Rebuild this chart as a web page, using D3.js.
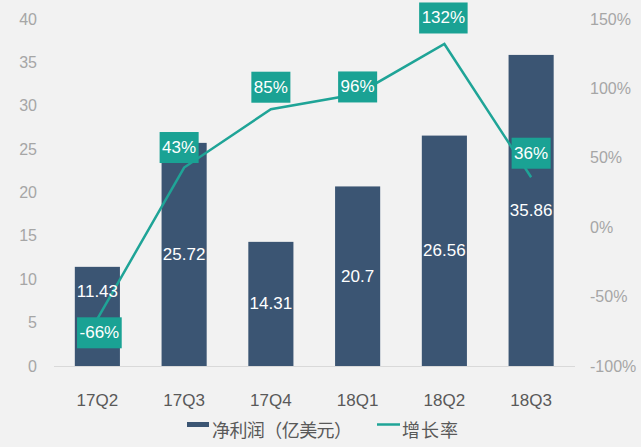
<!DOCTYPE html>
<html>
<head>
<meta charset="utf-8">
<script src="https://cdn.jsdelivr.net/npm/d3@7"></script>
<style>
html,body{margin:0;padding:0;background:#f2f2f2;}
svg{display:block;font-family:"Liberation Sans",Arial,"Noto Sans CJK SC",sans-serif;}
</style>
</head>
<body>
<svg id="chart" width="641" height="447"></svg>
<script>
const categories = ["17Q2","17Q3","17Q4","18Q1","18Q2","18Q3"];
const netProfit = [11.43, 25.72, 14.31, 20.7, 26.56, 35.86];
const growthRate = [-66, 43, 85, 96, 132, 36];
const leftTicks = [0,5,10,15,20,25,30,35,40];
const rightTicks = [-100,-50,0,50,100,150];
const legendLabels = ["净利润（亿美元）","增长率"];
// label placement tweaks (pixels)
const growthLabelDy = [14, -20, -22, -7, -26, -24];
const growthLabelDx = [2, -5, 0, 0, -1, 0];
const profitLabelDy = [-25, 0, 0, 0, 0, 0];

const barColor = "#3b5573";
const lineColor = "#1fa497";
const boxColor = "#1aa294";

const svg = d3.select("#chart");
const x = d3.scaleBand().domain(categories).range([54, 574.5]).paddingInner(0.48).paddingOuter(0.24);
const yL = d3.scaleLinear().domain([0,40]).range([366,19]);
const yR = d3.scaleLinear().domain([-100,150]).range([366,19]);

// left axis labels
svg.append("g").selectAll("text").data(leftTicks).join("text")
  .attr("x", 37).attr("y", d => yL(d)).attr("text-anchor","end")
  .attr("dominant-baseline","central").attr("font-size",16).attr("fill","#a6a6a6")
  .text(d => d);
// right axis labels
svg.append("g").selectAll("text").data(rightTicks).join("text")
  .attr("x", 590).attr("y", d => yR(d)).attr("text-anchor","start")
  .attr("dominant-baseline","central").attr("font-size",16).attr("fill","#a6a6a6")
  .text(d => d + "%");

// baseline
svg.append("line").attr("x1",54).attr("x2",575).attr("y1",yL(0)+0.5).attr("y2",yL(0)+0.5)
  .attr("stroke","#d9d9d9").attr("stroke-width",1);

// bars
svg.append("g").selectAll("rect").data(categories).join("rect")
  .attr("x", d => x(d)).attr("width", x.bandwidth())
  .attr("y", (d,i) => yL(netProfit[i])).attr("height", (d,i) => yL(0) - yL(netProfit[i]))
  .attr("fill", barColor);

// line
const line = d3.line().x((d,i) => x(categories[i]) + x.bandwidth()/2).y(d => yR(d));
svg.append("path").datum(growthRate).attr("d", line)
  .attr("fill","none").attr("stroke",lineColor).attr("stroke-width",2.5);

// bar value labels
svg.append("g").selectAll("text").data(categories).join("text")
  .attr("x", d => x(d) + x.bandwidth()/2)
  .attr("y", (d,i) => (yL(netProfit[i]) + yL(0))/2 + profitLabelDy[i])
  .attr("text-anchor","middle").attr("dominant-baseline","central")
  .attr("font-size",17).attr("fill","#ffffff")
  .text((d,i) => netProfit[i]);

// growth labels with boxes
const lg = svg.append("g").selectAll("g").data(growthRate).join("g")
  .attr("transform",(d,i) => `translate(${x(categories[i]) + x.bandwidth()/2 + growthLabelDx[i]},${yR(d) + growthLabelDy[i]})`);
lg.each(function(d){
  const g = d3.select(this);
  const t = g.append("text").attr("text-anchor","middle").attr("dominant-baseline","central")
    .attr("font-size",17).attr("fill","#ffffff").text(d + "%");
  const w = t.node().getComputedTextLength() + 5;
  g.insert("rect","text").attr("x",-w/2).attr("y",-15.5).attr("width",w).attr("height",31).attr("fill",boxColor);
});

// x labels
svg.append("g").selectAll("text").data(categories).join("text")
  .attr("x", d => x(d) + x.bandwidth()/2).attr("y", 400)
  .attr("text-anchor","middle").attr("dominant-baseline","central")
  .attr("font-size",17).attr("fill","#595959").text(d => d);

// legend
const leg = svg.append("g");
leg.append("rect").attr("x",187).attr("y",422).attr("width",22).attr("height",5).attr("fill",barColor);
leg.append("text").attr("x",212).attr("y",429).attr("dominant-baseline","central")
  .attr("font-size",18).attr("fill","#595959").attr("textLength",140).attr("lengthAdjust","spacing")
  .attr("font-family","'Noto Sans CJK SC',sans-serif").text(legendLabels[0]);
leg.append("line").attr("x1",377).attr("x2",400).attr("y1",424.5).attr("y2",424.5)
  .attr("stroke",lineColor).attr("stroke-width",2.5);
leg.append("text").attr("x",402).attr("y",429).attr("dominant-baseline","central")
  .attr("font-size",18).attr("fill","#595959").attr("textLength",56).attr("lengthAdjust","spacing")
  .attr("font-family","'Noto Sans CJK SC',sans-serif").text(legendLabels[1]);
</script>
</body>
</html>
